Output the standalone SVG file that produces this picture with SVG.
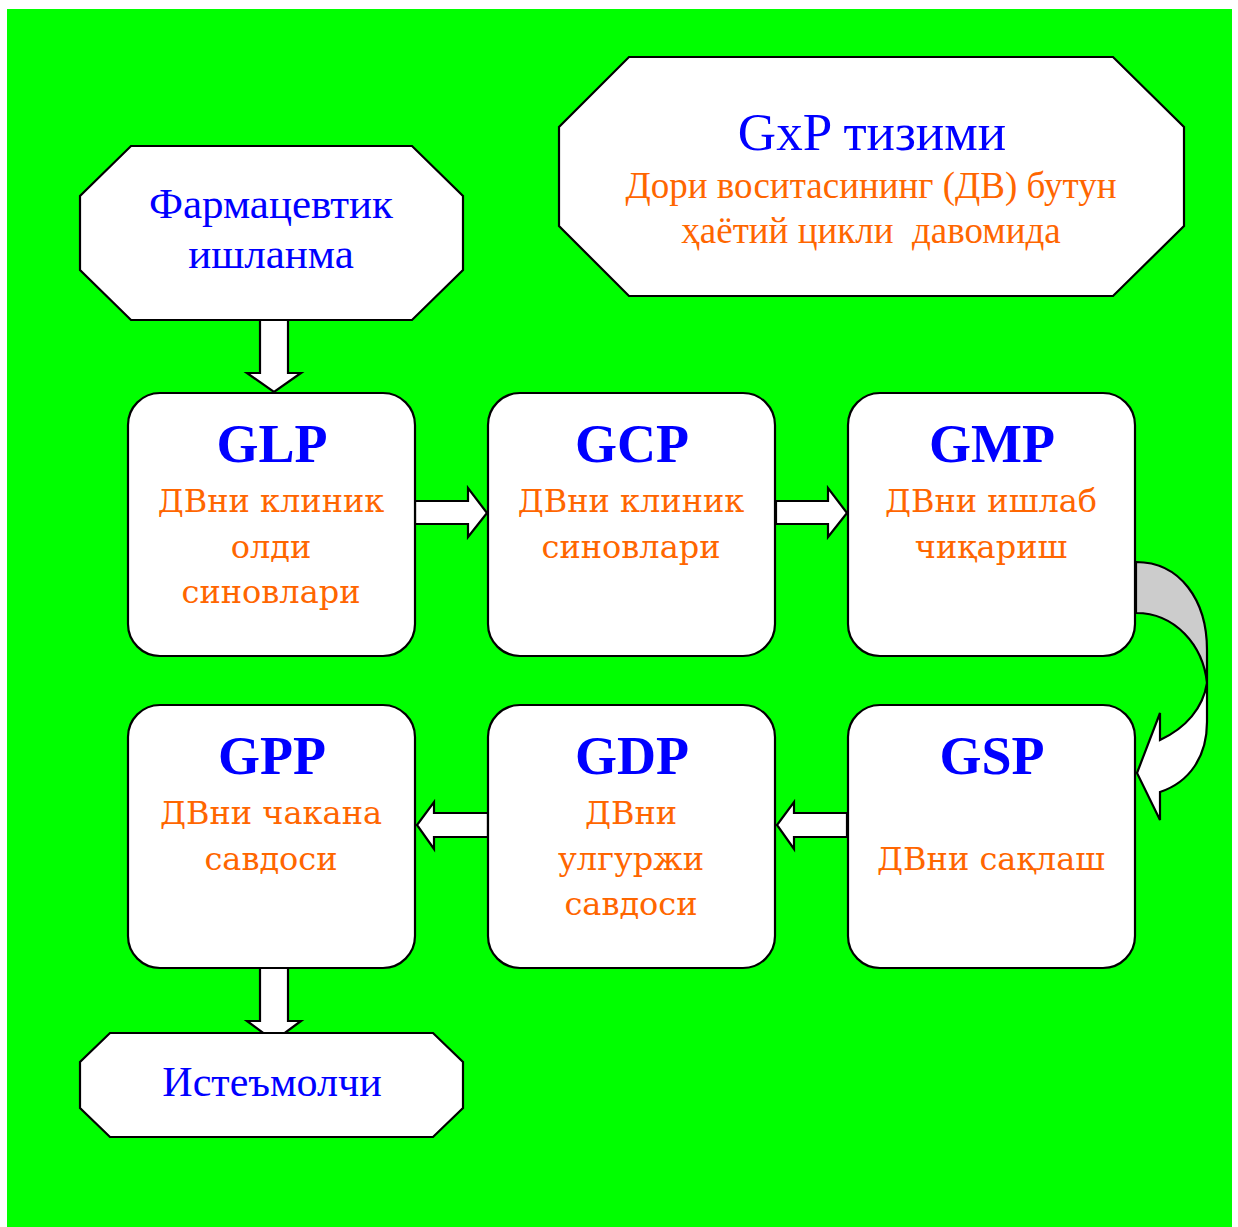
<svg xmlns="http://www.w3.org/2000/svg" width="1238" height="1227" viewBox="0 0 1238 1227">
<style>
.shape{fill:#fff;stroke:#000;stroke-width:2.2;stroke-linejoin:miter}
.conn{fill:#fff;stroke:#000;stroke-width:2.2;stroke-linejoin:miter}
.ttl{font-family:"Liberation Serif","Times New Roman",serif;font-weight:bold;font-size:54px;fill:#0000ff;text-anchor:middle}
.sub{font-family:"DejaVu Serif","Liberation Serif",serif;font-size:32px;fill:#ff6600;text-anchor:middle}
.blue{font-family:"Liberation Serif","Times New Roman",serif;fill:#0000ff;text-anchor:middle}
.org{font-family:"Liberation Serif","Times New Roman",serif;fill:#ff6600;text-anchor:middle}
</style>
<rect x="0" y="0" width="1238" height="1227" fill="#fff"/>
<rect x="7" y="9" width="1225" height="1218" fill="#00ff00"/>

<g id="connectors">
  <path class="conn" d="M260,312 L288,312 L288,373 L301,373 L274,392 L247,373 L260,373 Z"/>
  <path class="conn" d="M415,501 L468,501 L468,488 L487,513 L468,537 L468,524 L415,524 Z"/>
  <path class="conn" d="M776,501 L828,501 L828,488 L847,513 L828,537 L828,524 L776,524 Z"/>
  <path class="conn" d="M847,813 L794,813 L794,802 L777,825 L794,849 L794,837 L847,837 Z"/>
  <path class="conn" d="M488,813 L434,813 L434,802 L417,825 L434,849 L434,837 L488,837 Z"/>
  <path class="conn" d="M260,960 L288,960 L288,1021 L301,1021 L274,1041 L247,1021 L260,1021 Z"/>
  <path fill="#cccccc" stroke="#000" stroke-width="2.2" d="M1136,562 C1180,562 1207,600 1207,650 L1207,683 C1203,645 1175,613 1136,613 Z"/>
  <path class="conn" d="M1207,683 L1207,722 C1207,756 1190,782 1160,792 L1160,820 L1137,773 L1160,713 L1160,740 C1186,728 1203,708 1207,683 Z"/>
</g>

<g id="node-farm">
  <polygon class="shape" points="131,146 412,146 463,196 463,270 412,320 131,320 80,270 80,196"/>
  <text class="blue" x="271" y="218" font-size="43">Фармацевтик</text>
  <text class="blue" x="271" y="268" font-size="43">ишланма</text>
</g>

<g id="node-gxp">
  <polygon class="shape" points="629,57 1113,57 1184,127 1184,226 1113,296 629,296 559,226 559,127"/>
  <text class="blue" x="872" y="150" font-size="53">GxP тизими</text>
  <text class="org" x="871" y="198" font-size="37">Дори воситасининг (ДВ) бутун</text>
  <text class="org" x="871" y="243" font-size="37" xml:space="preserve">ҳаётий цикли  давомида</text>
</g>

<g id="node-glp">
  <rect class="shape" x="128" y="393" width="287" height="263" rx="32"/>
  <text class="ttl" x="272" y="462">GLP</text>
  <text class="sub" x="271" y="512">ДВни клиник</text>
  <text class="sub" x="271" y="558">олди</text>
  <text class="sub" x="271" y="603">синовлари</text>
</g>

<g id="node-gcp">
  <rect class="shape" x="488" y="393" width="287" height="263" rx="32"/>
  <text class="ttl" x="632" y="462">GCP</text>
  <text class="sub" x="631" y="512">ДВни клиник</text>
  <text class="sub" x="631" y="558">синовлари</text>
</g>

<g id="node-gmp">
  <rect class="shape" x="848" y="393" width="287" height="263" rx="32"/>
  <text class="ttl" x="992" y="462">GMP</text>
  <text class="sub" x="991" y="512">ДВни ишлаб</text>
  <text class="sub" x="991" y="558">чиқариш</text>
</g>

<g id="node-gpp">
  <rect class="shape" x="128" y="705" width="287" height="263" rx="32"/>
  <text class="ttl" x="272" y="774">GPP</text>
  <text class="sub" x="271" y="824">ДВни чакана</text>
  <text class="sub" x="271" y="870">савдоси</text>
</g>

<g id="node-gdp">
  <rect class="shape" x="488" y="705" width="287" height="263" rx="32"/>
  <text class="ttl" x="632" y="774">GDP</text>
  <text class="sub" x="631" y="824">ДВни</text>
  <text class="sub" x="631" y="870">улгуржи</text>
  <text class="sub" x="631" y="915">савдоси</text>
</g>

<g id="node-gsp">
  <rect class="shape" x="848" y="705" width="287" height="263" rx="32"/>
  <text class="ttl" x="992" y="774">GSP</text>
  <text class="sub" x="991" y="870">ДВни сақлаш</text>
</g>

<g id="node-consumer">
  <polygon class="shape" points="110,1033 433,1033 463,1062 463,1108 433,1137 110,1137 80,1108 80,1062"/>
  <text class="blue" x="272" y="1096" font-size="42">Истеъмолчи</text>
</g>
</svg>
